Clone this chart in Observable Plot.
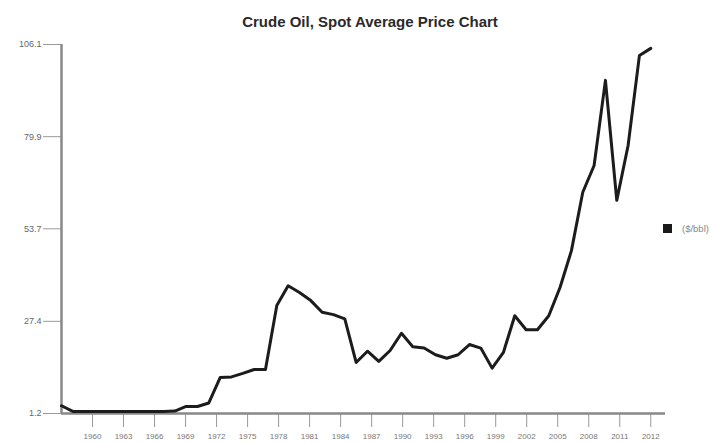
<!DOCTYPE html>
<html>
<head>
<meta charset="utf-8">
<script src="https://cdn.jsdelivr.net/npm/d3@7"></script>
<script src="https://cdn.jsdelivr.net/npm/@observablehq/plot@0.6"></script>
<style>
  html, body { margin: 0; padding: 0; background: #fff; }
  #wrap { position: relative; width: 710px; height: 443px; overflow: hidden; font-family: "Liberation Sans", Arial, sans-serif; }
  #title { height: 36px; box-sizing: border-box; padding-top: 14px; padding-left: 30px; text-align: center;
           font: bold 15px/15px "Liberation Sans", Arial, sans-serif; color: #2a2a2a; }
  #legend { position: absolute; left: 663px; top: 223px; display: flex; align-items: center; white-space: nowrap; }
  #legend .sw { width: 9px; height: 9px; background: #1a1a1a; margin-right: 10px; }
  #legend .lb { font-size: 9.5px; color: #888; }
</style>
</head>
<body>
<div id="wrap">
  <div id="title">Crude Oil, Spot Average Price Chart</div>
  <div id="chart"></div>
  <div id="legend"><div class="sw"></div><div class="lb">($/bbl)</div></div>
</div>
<script>
const years = [1960,1961,1962,1963,1964,1965,1966,1967,1968,1969,
               1970,1971,1972,1973,1974,1975,1976,1977,1978,1979,
               1980,1981,1982,1983,1984,1985,1986,1987,1988,1989,
               1990,1991,1992,1993,1994,1995,1996,1997,1998,1999,
               2000,2001,2002,2003,2004,2005,2006,2007,2008,2009,
               2010,2011,2012];
const prices = [3.4,1.8,1.8,1.8,1.8,1.8,1.8,1.8,1.8,1.8,
                1.9,3.2,3.2,4.2,11.4,11.6,12.6,13.7,13.7,31.9,
                37.5,35.6,33.3,30.0,29.3,28.1,15.7,18.9,16.0,19.1,
                24.0,20.2,19.8,17.9,16.9,17.9,20.8,19.8,14.1,18.6,
                29.0,25.0,25.0,29.0,37.1,47.5,64.1,71.7,95.9,61.8,
                77.4,103.0,105.0];
const yTicks = [1.2, 27.4, 53.7, 79.9, 106.1];
const xTickLabels = ["1960","1963","1966","1969","1972","1975","1978","1981","1984","1987",
                     "1990","1993","1996","1999","2002","2005","2008","2011","2012"];

const data = years.map((y, i) => ({year: y, price: prices[i]}));
const first = years[0], last = years[years.length - 1];
const xTickPos = xTickLabels.map((_, i) => first + (i + 1) * (last - first) / xTickLabels.length);
const labelByPos = new Map(xTickPos.map((p, i) => [p, xTickLabels[i]]));

const chart = Plot.plot({
  width: 710,
  height: 407,
  marginLeft: 61,
  marginRight: 45,
  marginTop: 8,
  marginBottom: 30,
  style: {fontFamily: "'Liberation Sans', Arial, sans-serif", background: "#fff", overflow: "visible"},
  x: {type: "linear", domain: [first, last + 1.3]},
  y: {type: "linear", domain: [yTicks[0], yTicks[yTicks.length - 1]]},
  marks: [
    Plot.axisY(yTicks, {tickSize: 18, tickPadding: 2, fontSize: 9, stroke: "#999", fill: "#666",
                        tickFormat: d => d.toFixed(1), label: null}),
    Plot.axisX(xTickPos, {tickSize: 14, tickPadding: 6, fontSize: 8, stroke: "#999", fill: "#777",
                          tickFormat: d => labelByPos.get(d), label: null}),
    Plot.ruleY([yTicks[0]], {stroke: "#888", strokeWidth: 2.5}),
    Plot.ruleX([first], {stroke: "#888", strokeWidth: 2.5}),
    Plot.line(data, {x: "year", y: "price", stroke: "#1c1c1c", strokeWidth: 3, strokeLinejoin: "round"})
  ]
});
document.getElementById("chart").appendChild(chart);
</script>
</body>
</html>
